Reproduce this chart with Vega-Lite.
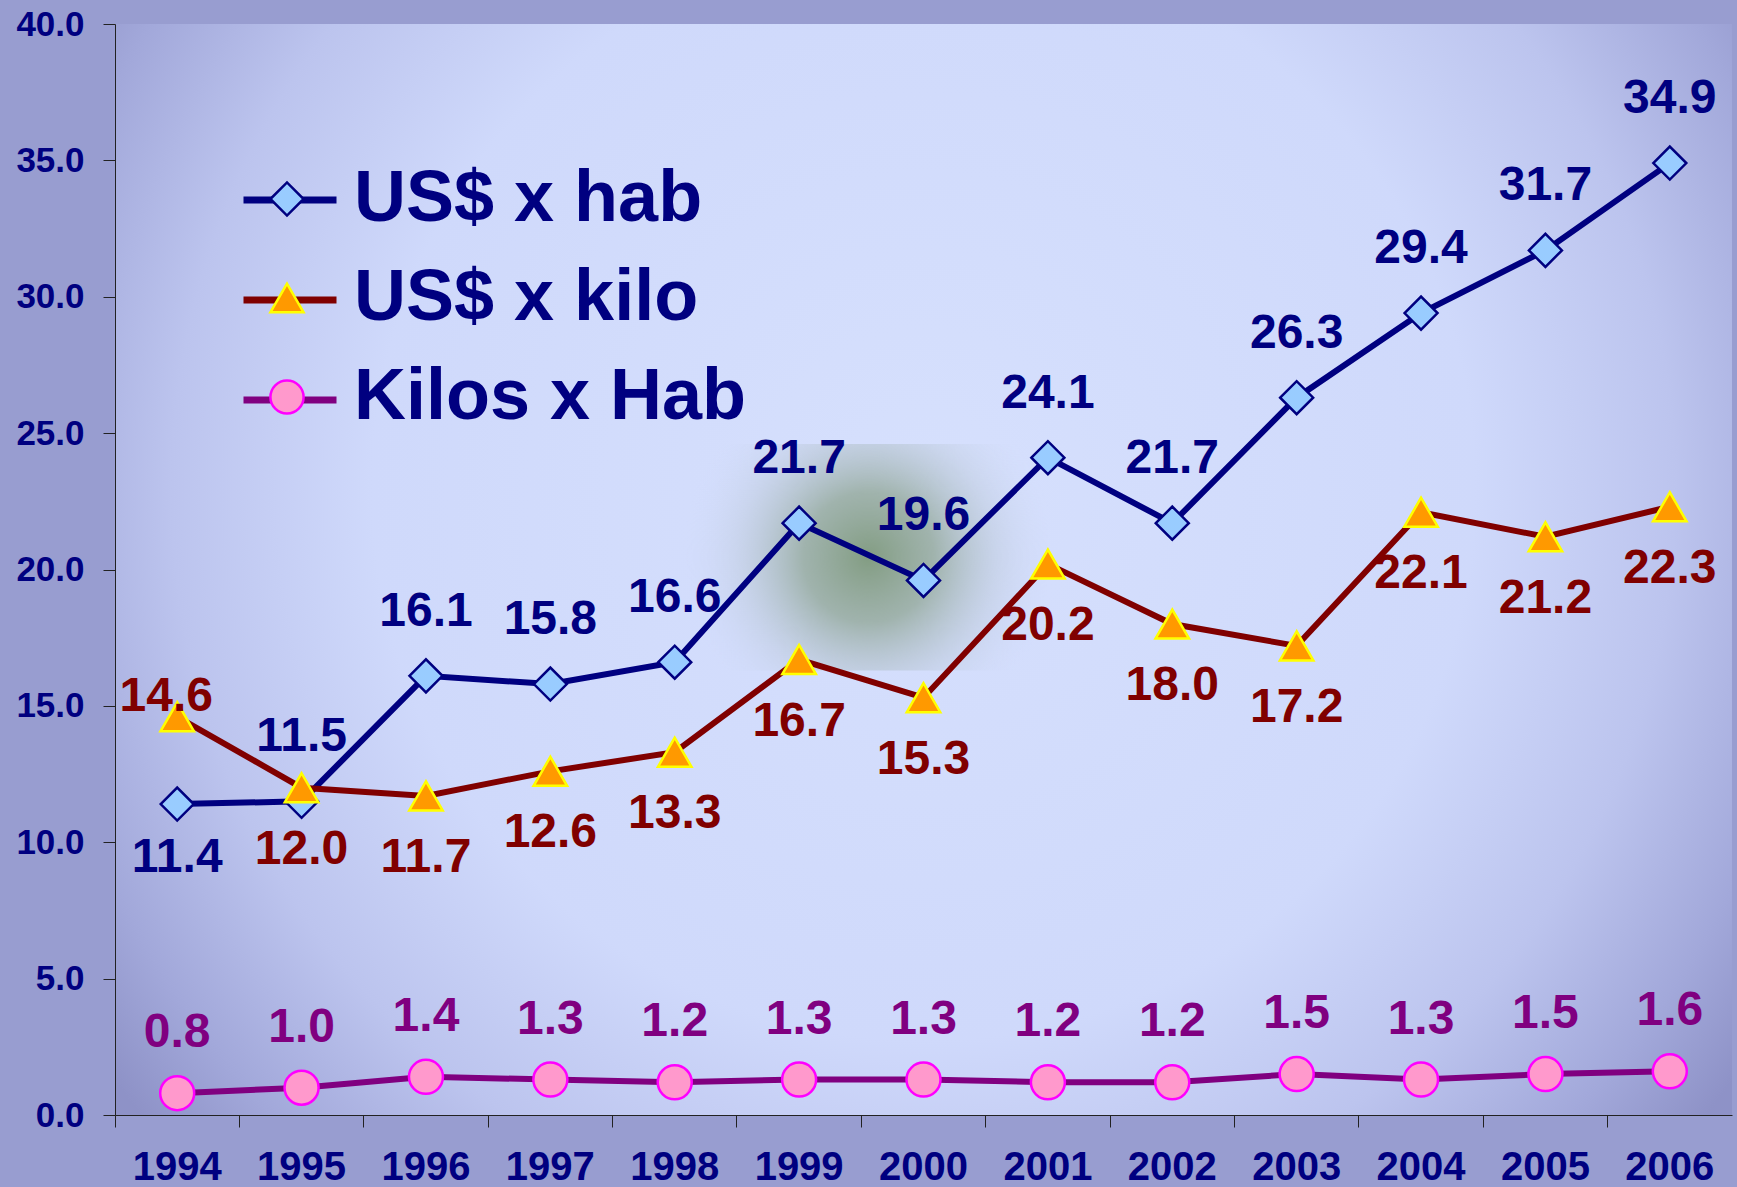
{
  "$schema": "https://vega.github.io/schema/vega-lite/v6.json",
  "width": 1617,
  "height": 1091,
  "autosize": {"type": "none"},
  "padding": {"left": 115, "top": 24, "right": 5, "bottom": 72},
  "background": "#989dd0",
  "config": {
    "font": "Liberation Sans",
    "view": {
      "stroke": null,
      "fill": {
        "gradient": "radial",
        "x1": 0.5, "y1": 0.45, "r1": 0,
        "x2": 0.5, "y2": 0.45, "r2": 0.62,
        "stops": [
          {"offset": 0, "color": "#d6e0fd"},
          {"offset": 0.55, "color": "#cfd9fb"},
          {"offset": 0.75, "color": "#bcc4ee"},
          {"offset": 0.9, "color": "#a2a8da"},
          {"offset": 1, "color": "#8e92c7"}
        ]
      }
    }
  },
  "datasets": {
    "main": [
      {"year": 1994, "series": "US$ x hab", "value": 11.4},
      {"year": 1995, "series": "US$ x hab", "value": 11.5},
      {"year": 1996, "series": "US$ x hab", "value": 16.1},
      {"year": 1997, "series": "US$ x hab", "value": 15.8},
      {"year": 1998, "series": "US$ x hab", "value": 16.6},
      {"year": 1999, "series": "US$ x hab", "value": 21.7},
      {"year": 2000, "series": "US$ x hab", "value": 19.6},
      {"year": 2001, "series": "US$ x hab", "value": 24.1},
      {"year": 2002, "series": "US$ x hab", "value": 21.7},
      {"year": 2003, "series": "US$ x hab", "value": 26.3},
      {"year": 2004, "series": "US$ x hab", "value": 29.4},
      {"year": 2005, "series": "US$ x hab", "value": 31.7},
      {"year": 2006, "series": "US$ x hab", "value": 34.9},
      {"year": 1994, "series": "US$ x kilo", "value": 14.6},
      {"year": 1995, "series": "US$ x kilo", "value": 12.0},
      {"year": 1996, "series": "US$ x kilo", "value": 11.7},
      {"year": 1997, "series": "US$ x kilo", "value": 12.6},
      {"year": 1998, "series": "US$ x kilo", "value": 13.3},
      {"year": 1999, "series": "US$ x kilo", "value": 16.7},
      {"year": 2000, "series": "US$ x kilo", "value": 15.3},
      {"year": 2001, "series": "US$ x kilo", "value": 20.2},
      {"year": 2002, "series": "US$ x kilo", "value": 18.0},
      {"year": 2003, "series": "US$ x kilo", "value": 17.2},
      {"year": 2004, "series": "US$ x kilo", "value": 22.1},
      {"year": 2005, "series": "US$ x kilo", "value": 21.2},
      {"year": 2006, "series": "US$ x kilo", "value": 22.3},
      {"year": 1994, "series": "Kilos x Hab", "value": 0.8},
      {"year": 1995, "series": "Kilos x Hab", "value": 1.0},
      {"year": 1996, "series": "Kilos x Hab", "value": 1.4},
      {"year": 1997, "series": "Kilos x Hab", "value": 1.3},
      {"year": 1998, "series": "Kilos x Hab", "value": 1.2},
      {"year": 1999, "series": "Kilos x Hab", "value": 1.3},
      {"year": 2000, "series": "Kilos x Hab", "value": 1.3},
      {"year": 2001, "series": "Kilos x Hab", "value": 1.2},
      {"year": 2002, "series": "Kilos x Hab", "value": 1.2},
      {"year": 2003, "series": "Kilos x Hab", "value": 1.5},
      {"year": 2004, "series": "Kilos x Hab", "value": 1.3},
      {"year": 2005, "series": "Kilos x Hab", "value": 1.5},
      {"year": 2006, "series": "Kilos x Hab", "value": 1.6}
    ],
    "blob": [
      {"year": 1998, "year2": 2001, "low": 16.3, "high": 24.6}
    ]
  },
  "encoding": {
    "x": {
      "field": "year",
      "type": "ordinal",
      "scale": {"type": "band", "paddingInner": 0, "paddingOuter": 0},
      "axis": {
        "title": null,
        "labelAngle": 0,
        "bandPosition": 0,
        "tickSize": 12,
        "tickColor": "#222222",
        "domainColor": "#222222",
        "labelPadding": 20,
        "labelFont": "Liberation Sans",
        "labelFontSize": 40,
        "labelFontWeight": "bold",
        "labelColor": "#000080"
      }
    },
    "y": {
      "field": "value",
      "type": "quantitative",
      "scale": {"domain": [0, 40], "nice": false},
      "axis": {
        "title": null,
        "values": [0, 5, 10, 15, 20, 25, 30, 35, 40],
        "format": ".1f",
        "grid": false,
        "tickSize": 12,
        "tickColor": "#222222",
        "domainColor": "#222222",
        "labelPadding": 19,
        "labelFont": "Liberation Sans",
        "labelFontSize": 35,
        "labelFontWeight": "bold",
        "labelColor": "#000080"
      }
    }
  },
  "layer": [
    {
      "data": {"name": "blob"},
      "mark": {
        "type": "rect",
        "fill": {
          "gradient": "radial",
          "x1": 0.52, "y1": 0.5, "r1": 0,
          "x2": 0.52, "y2": 0.5, "r2": 0.5,
          "stops": [
            {"offset": 0, "color": "rgba(110,140,100,0.8)"},
            {"offset": 0.35, "color": "rgba(125,150,120,0.6)"},
            {"offset": 0.7, "color": "rgba(170,185,190,0.25)"},
            {"offset": 1, "color": "rgba(205,215,245,0)"}
          ]
        }
      },
      "encoding": {
        "x": {"field": "year", "type": "ordinal"},
        "x2": {"field": "year2"},
        "y": {"field": "low", "type": "quantitative"},
        "y2": {"field": "high"}
      }
    },
    {
      "data": {"name": "main"},
      "mark": {"type": "line", "strokeWidth": 6},
      "encoding": {
        "color": {
          "field": "series",
          "type": "nominal",
          "scale": {
            "domain": ["US$ x hab", "US$ x kilo", "Kilos x Hab"],
            "range": ["#000080", "#800000", "#800080"]
          },
          "legend": {
            "orient": "none",
            "legendX": 125,
            "legendY": 126,
            "title": null,
            "symbolType": "stroke",
            "symbolSize": 8649,
            "symbolStrokeWidth": 7,
            "labelFontSize": 72,
            "labelFontWeight": "bold",
            "labelExpr": "''",
            "labelColor": "rgba(0,0,0,0)",
            "rowPadding": 14
          }
        }
      }
    },
    {
      "data": {"name": "main"},
      "mark": {"type": "point", "filled": true, "opacity": 1, "strokeWidth": 2.5},
      "encoding": {
        "shape": {
          "field": "series",
          "type": "nominal",
          "sort": ["US$ x hab", "US$ x kilo", "Kilos x Hab"],
          "scale": {"range": ["diamond", "triangle-up", "circle"]},
          "legend": {
            "orient": "none",
            "legendX": 136,
            "legendY": 139,
            "title": null,
            "symbolSize": 1100,
            "symbolStrokeWidth": 2.5,
            "symbolOpacity": 1,
            "labelFont": "Liberation Sans",
            "labelFontSize": 72,
            "labelFontWeight": "bold",
            "labelColor": "#000080",
            "labelLimit": 800,
            "labelOffset": 31,
            "rowPadding": 27,
            "encoding": {
              "symbols": {
                "fill": {"value": {"expr": "scale('fill', datum.value)"}},
                "stroke": {"value": {"expr": "scale('stroke', datum.value)"}}
              }
            }
          }
        },
        "fill": {
          "field": "series",
          "type": "nominal",
          "sort": ["US$ x hab", "US$ x kilo", "Kilos x Hab"],
          "scale": {"range": ["#99ccff", "#ff9900", "#ff99cc"]},
          "legend": null
        },
        "stroke": {
          "field": "series",
          "type": "nominal",
          "sort": ["US$ x hab", "US$ x kilo", "Kilos x Hab"],
          "scale": {"range": ["#000080", "#ffff00", "#ff00ff"]},
          "legend": null
        },
        "size": {
          "field": "series",
          "type": "nominal",
          "sort": ["US$ x hab", "US$ x kilo", "Kilos x Hab"],
          "scale": {"range": [1089, 1156, 650]},
          "legend": null
        }
      }
    },
    {
      "data": {"name": "main"},
      "transform": [{"filter": "datum.series === 'US$ x hab' && datum.year !== 1994"}],
      "mark": {"type": "text", "dy": -64, "baseline": "middle", "font": "Liberation Sans", "fontSize": 48, "fontWeight": "bold", "color": "#000080"},
      "encoding": {"text": {"field": "value", "type": "quantitative", "format": ".1f"}}
    },
    {
      "data": {"name": "main"},
      "transform": [{"filter": "datum.series === 'US$ x hab' && datum.year === 1994"}],
      "mark": {"type": "text", "dy": 54, "baseline": "middle", "font": "Liberation Sans", "fontSize": 48, "fontWeight": "bold", "color": "#000080"},
      "encoding": {"text": {"field": "value", "type": "quantitative", "format": ".1f"}}
    },
    {
      "data": {"name": "main"},
      "transform": [{"filter": "datum.series === 'US$ x kilo' && datum.year !== 1994"}],
      "mark": {"type": "text", "dy": 62, "baseline": "middle", "font": "Liberation Sans", "fontSize": 48, "fontWeight": "bold", "color": "#800000"},
      "encoding": {"text": {"field": "value", "type": "quantitative", "format": ".1f"}}
    },
    {
      "data": {"name": "main"},
      "transform": [{"filter": "datum.series === 'US$ x kilo' && datum.year === 1994"}],
      "mark": {"type": "text", "dy": -20, "dx": -11, "baseline": "middle", "font": "Liberation Sans", "fontSize": 48, "fontWeight": "bold", "color": "#800000"},
      "encoding": {"text": {"field": "value", "type": "quantitative", "format": ".1f"}}
    },
    {
      "data": {"name": "main"},
      "transform": [{"filter": "datum.series === 'Kilos x Hab'"}],
      "mark": {"type": "text", "dy": -60, "baseline": "middle", "font": "Liberation Sans", "fontSize": 48, "fontWeight": "bold", "color": "#800080"},
      "encoding": {"text": {"field": "value", "type": "quantitative", "format": ".1f"}}
    }
  ]
}
